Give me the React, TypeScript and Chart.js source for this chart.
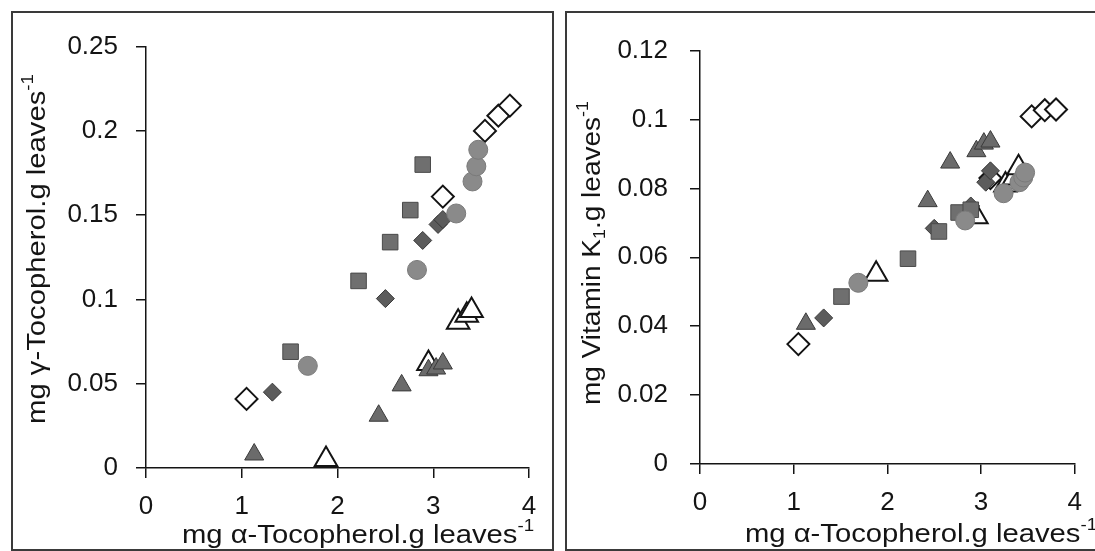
import React, { useEffect, useRef } from "react";
import { Chart, registerables } from "chart.js";

Chart.register(...registerables);

// ---------------- data ----------------
// x values: mg alpha-tocopherol per g leaves, one array per marker group
const ALPHA_OPEN_DIAMOND = [1.05, 3.1, 3.54, 3.68, 3.8];
const ALPHA_FILLED_DIAMOND = [1.32, 2.5, 2.89, 3.05, 3.1];
const ALPHA_SQUARE = [1.51, 2.22, 2.55, 2.76, 2.89];
const ALPHA_CIRCLE = [1.69, 2.83, 3.24, 3.41, 3.45, 3.47];
const ALPHA_FILLED_TRIANGLE = [1.13, 2.43, 2.67, 2.95, 3.03, 3.1];
const ALPHA_OPEN_TRIANGLE = [1.88, 2.95, 3.26, 3.35, 3.4];

// left panel: mg gamma-tocopherol per g leaves
const GAMMA_OPEN_DIAMOND = [0.041, 0.161, 0.2, 0.209, 0.215];
const GAMMA_FILLED_DIAMOND = [0.045, 0.1005, 0.135, 0.1445, 0.1474];
const GAMMA_SQUARE = [0.069, 0.111, 0.134, 0.153, 0.18];
const GAMMA_CIRCLE = [0.0606, 0.1175, 0.151, 0.17, 0.179, 0.1888];
const GAMMA_FILLED_TRIANGLE = [0.008, 0.031, 0.049, 0.058, 0.059, 0.062];
const GAMMA_OPEN_TRIANGLE = [0.005, 0.062, 0.0865, 0.0906, 0.0935];

// right panel: mg vitamin K1 per g leaves
const VITK_OPEN_DIAMOND = [0.0348, 0.083, 0.1009, 0.1027, 0.1029];
const VITK_FILLED_DIAMOND = [0.0424, 0.0684, 0.0749, 0.0818, 0.0851];
const VITK_SQUARE = [0.0486, 0.0596, 0.0675, 0.073, 0.0738];
const VITK_CIRCLE = [0.0526, 0.0707, 0.0786, 0.0818, 0.0832, 0.0846];
const VITK_FILLED_TRIANGLE = [0.0407, 0.0763, 0.0875, 0.0908, 0.093, 0.0936];
const VITK_OPEN_TRIANGLE = [0.0551, 0.0718, 0.081, 0.083, 0.086];

// ticks
const X_TICKS = [0, 1, 2, 3, 4];
const GAMMA_TICKS = [0, 0.05, 0.1, 0.15, 0.2, 0.25];
const VITK_TICKS = [0, 0.02, 0.04, 0.06, 0.08, 0.1, 0.12];
const X_TICK_LABELS = ["0", "1", "2", "3", "4"];
const GAMMA_TICK_LABELS = ["0", "0.05", "0.1", "0.15", "0.2", "0.25"];
const VITK_TICK_LABELS = ["0", "0.02", "0.04", "0.06", "0.08", "0.1", "0.12"];

// titles
type Seg = { text: string; mode?: "sup" | "sub" };
const X_TITLE: Seg[] = [{ text: "mg α-Tocopherol.g leaves" }, { text: "-1", mode: "sup" }];
const GAMMA_TITLE: Seg[] = [{ text: "mg γ-Tocopherol.g leaves" }, { text: "-1", mode: "sup" }];
const VITK_TITLE: Seg[] = [
  { text: "mg Vitamin K" },
  { text: "1", mode: "sub" },
  { text: ".g leaves" },
  { text: "-1", mode: "sup" },
];

// ---------------- styling ----------------
const FONT = "'Liberation Sans', Arial, Helvetica, sans-serif";
const INK = "#141414";

type Style = { pointStyle: string; radius: number; bg: string; border: string; bw: number };
const STYLE_CIRCLE: Style = { pointStyle: "circle", radius: 9.5, bg: "#8a8a8a", border: "#7a7a7a", bw: 1 };
const STYLE_FILLED_TRIANGLE: Style = { pointStyle: "triangle", radius: 11, bg: "#6b6b6b", border: "#3a3a3a", bw: 1 };
const STYLE_SQUARE: Style = { pointStyle: "rect", radius: 11, bg: "#6f6f6f", border: "#4a4a4a", bw: 1 };
const STYLE_FILLED_DIAMOND: Style = { pointStyle: "rectRot", radius: 9, bg: "#5c5c5c", border: "#383838", bw: 1 };
const STYLE_OPEN_TRIANGLE: Style = { pointStyle: "triangle", radius: 13, bg: "#ffffff", border: INK, bw: 2 };
const STYLE_OPEN_DIAMOND: Style = { pointStyle: "rectRot", radius: 11, bg: "#ffffff", border: INK, bw: 2 };

function makeDataset(label: string, xs: number[], ys: number[], st: Style, order: number) {
  return {
    label,
    data: xs.map((x, i) => ({ x, y: ys[i] })),
    pointStyle: st.pointStyle,
    pointRadius: st.radius,
    pointHoverRadius: st.radius,
    pointBackgroundColor: st.bg,
    pointBorderColor: st.border,
    pointBorderWidth: st.bw,
    showLine: false,
    order,
  };
}

function drawRich(ctx: CanvasRenderingContext2D, segs: Seg[], x: number, y: number, rotated: boolean, size: number, scaleX: number) {
  ctx.save();
  ctx.translate(x, y);
  if (rotated) ctx.rotate(-Math.PI / 2);
  ctx.scale(scaleX, 1);
  ctx.fillStyle = INK;
  ctx.textBaseline = "alphabetic";
  ctx.textAlign = "left";
  const small = 16;
  const fontFor = (s: Seg) => `${s.mode ? small : size}px ${FONT}`;
  let total = 0;
  for (const s of segs) {
    ctx.font = fontFor(s);
    total += ctx.measureText(s.text).width;
  }
  let cx = -total / 2;
  for (const s of segs) {
    ctx.font = fontFor(s);
    const dy = s.mode === "sup" ? -12 : s.mode === "sub" ? 5 : 0;
    ctx.fillText(s.text, cx, dy);
    cx += ctx.measureText(s.text).width;
  }
  ctx.restore();
}

const richTitlePlugin = {
  id: "richTitles",
  afterDraw(chart: any, _args: any, opts: any) {
    const ctx = chart.ctx as CanvasRenderingContext2D;
    for (const t of opts.items || []) drawRich(ctx, t.segs, t.x, t.y, t.rotated, t.size, t.scaleX);
  },
};

type PanelProps = {
  W: number;
  H: number;
  area: { left: number; right: number; top: number; bottom: number };
  datasets: any[];
  yMax: number;
  yTicks: number[];
  yTickLabels: string[];
  yPad: number;
  yTitle: Seg[];
  yTitleScale: number;
  yTitlePos: { x: number; y: number };
  xTitlePos: { x: number; y: number };
};

function ScatterPanel(p: PanelProps) {
  const ref = useRef<HTMLCanvasElement | null>(null);
  useEffect(() => {
    if (!ref.current) return;
    const axisLine = { display: true, color: INK, width: 1.5 };
    const grid = { display: true, drawOnChartArea: false, drawTicks: true, tickLength: 10, color: INK, lineWidth: 1.5 };
    const chart = new Chart(ref.current, {
      type: "scatter",
      data: { datasets: p.datasets },
      options: {
        animation: false,
        responsive: false,
        events: [],
        layout: { padding: { left: 0, top: p.area.top, right: p.W - p.area.right, bottom: 0 } },
        plugins: {
          legend: { display: false },
          tooltip: { enabled: false },
          richTitles: {
            items: [
              { segs: X_TITLE, x: p.xTitlePos.x, y: p.xTitlePos.y, rotated: false, size: 25, scaleX: 1.17 },
              { segs: p.yTitle, x: p.yTitlePos.x, y: p.yTitlePos.y, rotated: true, size: 25, scaleX: p.yTitleScale },
            ],
          },
        } as any,
        scales: {
          x: {
            type: "linear",
            min: 0,
            max: 4,
            border: axisLine,
            grid,
            afterBuildTicks: (s: any) => {
              s.ticks = X_TICKS.map((v) => ({ value: v }));
            },
            afterFit: (s: any) => {
              s.height = p.H - p.area.bottom;
            },
            ticks: {
              color: INK,
              padding: 13,
              font: { family: FONT, size: 26 },
              maxRotation: 0,
              callback: (v: any) => X_TICK_LABELS[X_TICKS.indexOf(Number(v))] ?? String(v),
            },
          },
          y: {
            type: "linear",
            min: 0,
            max: p.yMax,
            border: axisLine,
            grid,
            afterBuildTicks: (s: any) => {
              s.ticks = p.yTicks.map((v) => ({ value: v }));
            },
            afterFit: (s: any) => {
              s.width = p.area.left;
            },
            ticks: {
              color: INK,
              padding: p.yPad,
              font: { family: FONT, size: 26 },
              callback: (v: any) => {
                const i = p.yTicks.findIndex((t) => Math.abs(t - Number(v)) < 1e-9);
                return i >= 0 ? p.yTickLabels[i] : String(v);
              },
            },
          },
        },
      } as any,
      plugins: [richTitlePlugin as any],
    });
    return () => chart.destroy();
  }, []);
  return <canvas ref={ref} width={p.W} height={p.H} style={{ display: "block", width: p.W, height: p.H }} />;
}

const leftDatasets = [
  makeDataset("Group C (circle)", ALPHA_CIRCLE, GAMMA_CIRCLE, STYLE_CIRCLE, 1),
  makeDataset("Group E (filled triangle)", ALPHA_FILLED_TRIANGLE, GAMMA_FILLED_TRIANGLE, STYLE_FILLED_TRIANGLE, 2),
  makeDataset("Group B (square)", ALPHA_SQUARE, GAMMA_SQUARE, STYLE_SQUARE, 3),
  makeDataset("Group D (filled diamond)", ALPHA_FILLED_DIAMOND, GAMMA_FILLED_DIAMOND, STYLE_FILLED_DIAMOND, 4),
  makeDataset("Group F (open triangle)", ALPHA_OPEN_TRIANGLE, GAMMA_OPEN_TRIANGLE, STYLE_OPEN_TRIANGLE, 5),
  makeDataset("Group A (open diamond)", ALPHA_OPEN_DIAMOND, GAMMA_OPEN_DIAMOND, STYLE_OPEN_DIAMOND, 6),
];

const rightDatasets = [
  makeDataset("Group C (circle)", ALPHA_CIRCLE, VITK_CIRCLE, STYLE_CIRCLE, 1),
  makeDataset("Group E (filled triangle)", ALPHA_FILLED_TRIANGLE, VITK_FILLED_TRIANGLE, STYLE_FILLED_TRIANGLE, 2),
  makeDataset("Group B (square)", ALPHA_SQUARE, VITK_SQUARE, STYLE_SQUARE, 3),
  makeDataset("Group D (filled diamond)", ALPHA_FILLED_DIAMOND, VITK_FILLED_DIAMOND, STYLE_FILLED_DIAMOND, 4),
  makeDataset("Group F (open triangle)", ALPHA_OPEN_TRIANGLE, VITK_OPEN_TRIANGLE, STYLE_OPEN_TRIANGLE, 5),
  makeDataset("Group A (open diamond)", ALPHA_OPEN_DIAMOND, VITK_OPEN_DIAMOND, STYLE_OPEN_DIAMOND, 6),
];

export default function App() {
  const frame = "2px solid #3a3a3a";
  return (
    <div>
      <div
        style={{
          position: "absolute",
          left: 11,
          top: 11,
          width: 543,
          height: 540,
          boxSizing: "border-box",
          border: frame,
          background: "#fff",
          overflow: "hidden",
        }}
      >
        <ScatterPanel
          W={539}
          H={536}
          area={{ left: 133, right: 516, top: 23, bottom: 455 }}
          datasets={leftDatasets}
          yMax={0.25}
          yTicks={GAMMA_TICKS}
          yTickLabels={GAMMA_TICK_LABELS}
          yPad={18}
          yTitle={GAMMA_TITLE}
          yTitleScale={1.17}
          yTitlePos={{ x: 32, y: 236 }}
          xTitlePos={{ x: 345, y: 530 }}
        />
      </div>
      <div
        style={{
          position: "absolute",
          left: 565,
          top: 11,
          width: 530,
          height: 540,
          boxSizing: "border-box",
          borderLeft: frame,
          borderTop: frame,
          borderBottom: frame,
          background: "#fff",
          overflow: "hidden",
        }}
      >
        <ScatterPanel
          W={528}
          H={536}
          area={{ left: 133, right: 516, top: 20, bottom: 451 }}
          datasets={rightDatasets}
          yMax={0.12}
          yTicks={VITK_TICKS}
          yTickLabels={VITK_TICK_LABELS}
          yPad={22}
          yTitle={VITK_TITLE}
          yTitleScale={1.12}
          yTitlePos={{ x: 33, y: 240 }}
          xTitlePos={{ x: 354, y: 529 }}
        />
      </div>
    </div>
  );
}
